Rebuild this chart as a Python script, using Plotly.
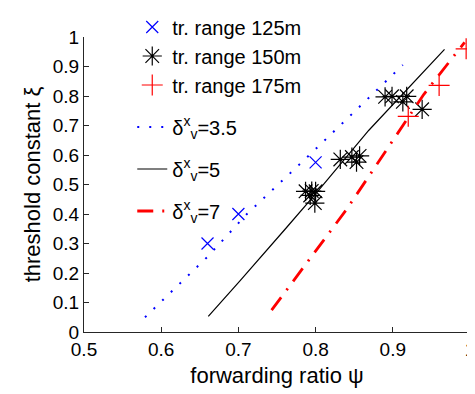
import plotly.graph_objects as go

# --- data ---
r125_x = [0.66, 0.70, 0.80]
r125_y = [0.30, 0.40, 0.575]

r150_x = [0.787, 0.795, 0.800, 0.793, 0.799, 0.832, 0.847, 0.857, 0.853,
          0.890, 0.899, 0.913, 0.918, 0.938]
r150_y = [0.477, 0.478, 0.477, 0.463, 0.437, 0.585, 0.593, 0.597, 0.576,
          0.797, 0.799, 0.780, 0.799, 0.755]

r175_x = [0.920, 0.960, 0.995]
r175_y = [0.731, 0.836, 0.960]

d35_x = [0.579, 0.660, 0.711, 0.790, 0.913]
d35_y = [0.050, 0.255, 0.400, 0.595, 0.905]

d5_x = [0.661, 0.702, 0.761, 0.800, 0.869, 0.920, 0.967]
d5_y = [0.053, 0.173, 0.350, 0.468, 0.684, 0.828, 0.958]

d7_x = [0.743, 0.840, 0.940, 0.993]
d7_y = [0.074, 0.415, 0.805, 0.982]

x_ticks = [0.5, 0.6, 0.7, 0.8, 0.9, 1.0]
x_tick_labels = ["0.5", "0.6", "0.7", "0.8", "0.9", "1"]
y_ticks = [0, 0.1, 0.2, 0.3, 0.4, 0.5, 0.6, 0.7, 0.8, 0.9, 1.0]
y_tick_labels = ["0", "0.1", "0.2", "0.3", "0.4", "0.5", "0.6", "0.7", "0.8", "0.9", "1"]

FONT = "Liberation Sans, Arial, sans-serif"

fig = go.Figure()

fig.add_trace(go.Scatter(x=r125_x, y=r125_y, mode="markers", name="tr. range 125m",
                         legendgroup="m", cliponaxis=False,
                         marker=dict(symbol="x-thin-open", size=12, color="blue",
                                     line=dict(color="blue", width=1.2))))
fig.add_trace(go.Scatter(x=r150_x, y=r150_y, mode="markers", name="tr. range 150m",
                         legendgroup="m", cliponaxis=False,
                         marker=dict(symbol="asterisk-open", size=16, color="black",
                                     line=dict(color="black", width=1.2))))
fig.add_trace(go.Scatter(x=r175_x, y=r175_y, mode="markers", name="tr. range 175m",
                         legendgroup="m", cliponaxis=False,
                         marker=dict(symbol="cross-thin-open", size=15, color="red",
                                     line=dict(color="red", width=1.2))))

fig.add_trace(go.Scatter(x=d35_x, y=d35_y, mode="lines", name="δ<sup>x</sup><sub>v</sub>=3.5",
                         legendgroup="a",
                         line=dict(color="blue", width=2, dash="2px,10px")))
fig.add_trace(go.Scatter(x=d5_x, y=d5_y, mode="lines", name="δ<sup>x</sup><sub>v</sub>=5",
                         legendgroup="b",
                         line=dict(color="black", width=1.2)))
fig.add_trace(go.Scatter(x=d7_x, y=d7_y, mode="lines", name="δ<sup>x</sup><sub>v</sub>=7",
                         legendgroup="c", cliponaxis=False,
                         line=dict(color="red", width=2.8, dash="16px,9px,2px,9px")))

# page body has an 8px default margin; layout margins compensate for it
fig.update_layout(
    width=475, height=394,
    margin=dict(l=76, r=13, t=29, b=70, autoexpand=False),
    paper_bgcolor="white", plot_bgcolor="white",
    font=dict(family=FONT, size=18, color="black"),
    showlegend=True,
    legend=dict(x=0.125, y=1.10, xanchor="left", yanchor="top",
                bgcolor="rgba(0,0,0,0)", font=dict(size=20),
                traceorder="grouped", tracegroupgap=13, maxheight=1000),
)
fig.update_xaxes(range=[0.5, 1.0], tickmode="array", tickvals=x_ticks, ticktext=x_tick_labels,
                 showgrid=False, zeroline=False, showline=True, linecolor="#262626", linewidth=1,
                 ticks="inside", ticklen=5, tickcolor="#262626", mirror=False,
                 tickfont=dict(size=19), automargin=False,
                 title=dict(text="forwarding ratio ψ", standoff=8))
fig.update_yaxes(range=[0, 1.0], tickmode="array", tickvals=y_ticks, ticktext=y_tick_labels,
                 showgrid=False, zeroline=False, showline=True, linecolor="#262626", linewidth=1,
                 ticks="inside", ticklen=5, tickcolor="#262626", mirror=False,
                 tickfont=dict(size=19), automargin=False,
                 title=dict(text="threshold constant ξ", standoff=6))

fig.write_html("out.html")
